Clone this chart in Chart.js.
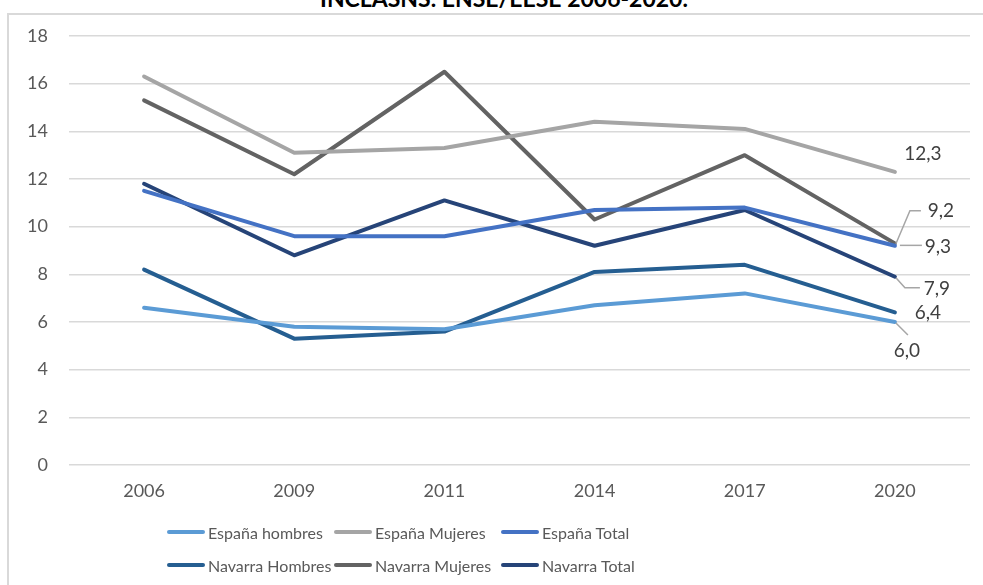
<!DOCTYPE html>
<html>
<head>
<meta charset="utf-8">
<script src="https://cdn.jsdelivr.net/npm/chart.js@4"></script>
<style>
  html, body { margin: 0; padding: 0; background: #fff; }
  #wrap { position: relative; width: 983px; height: 585px; overflow: hidden; font-family: Lato, sans-serif; }
  #frame { position: absolute; left: 7px; top: 13px; width: 990px; height: 600px;
           border-left: 2px solid #d9d9d9; border-top: 2px solid #d9d9d9; }
  #title { position: absolute; left: 0; width: 1008px; top: -13px; text-align: center;
           font-size: 23px; line-height: 23px; font-weight: bold; color: #000; white-space: nowrap; }
  #chart { position: absolute; left: 0; top: 0; }
  .legend { position: absolute; left: 167px; height: 20px; display: flex; }
  .item { width: 167px; display: flex; align-items: center; font-size: 16px; color: #595959; white-space: nowrap; }
  .sw { width: 38px; height: 4px; border-radius: 2px; margin-right: 3px; flex: none; }
</style>
</head>
<body>
<div id="wrap">
  <div id="frame"></div>
  <div id="title">INCLASNS. ENSE/EESE 2006-2020.</div>
  <canvas id="chart" width="983" height="585"></canvas>
  <div class="legend" id="legendRow1" style="top:522px"></div>
  <div class="legend" id="legendRow2" style="top:555px"></div>
</div>
<script>
document.addEventListener('DOMContentLoaded', () => {

  /* ---------- DATA ---------- */
  const years = ['2006', '2009', '2011', '2014', '2017', '2020'];
  const yTicks = [0, 2, 4, 6, 8, 10, 12, 14, 16, 18];

  const espanaHombres  = [6.6, 5.8, 5.7, 6.7, 7.2, 6.0];
  const espanaMujeres  = [16.3, 13.1, 13.3, 14.4, 14.1, 12.3];
  const espanaTotal    = [11.5, 9.6, 9.6, 10.7, 10.8, 9.2];
  const navarraHombres = [8.2, 5.3, 5.6, 8.1, 8.4, 6.4];
  const navarraMujeres = [15.3, 12.2, 16.5, 10.3, 13.0, 9.3];
  const navarraTotal   = [11.8, 8.8, 11.1, 9.2, 10.7, 7.9];

  const seriesNames = ['España hombres', 'España Mujeres', 'España Total',
                       'Navarra Hombres', 'Navarra Mujeres', 'Navarra Total'];
  const seriesData = [espanaHombres, espanaMujeres, espanaTotal,
                      navarraHombres, navarraMujeres, navarraTotal];
  const colors = ['#5b9bd5', '#a5a5a5', '#4472c4', '#255e91', '#636363', '#264478'];

  /* ---------- END LABELS (offset from last point, px) ---------- */
  const endLabels = [
    { dx: 12, dy: 29, leader: [[1, 1], [13, 13]] },
    { dx: 28, dy: -18 },
    { dx: 46, dy: -35, leader: [[1, -2], [15, -35], [26, -35]] },
    { dx: 33, dy: 0 },
    { dx: 43, dy: 4, leader: [[5, 2], [27, 2]] },
    { dx: 42, dy: 12, leader: [[1, 1], [10, 11], [25, 11]] }
  ];

  const endLabelPlugin = {
    id: 'endLabels',
    afterDatasetsDraw(chart) {
      const ctx = chart.ctx;
      ctx.save();
      ctx.font = '19px Lato, sans-serif';
      ctx.fillStyle = '#404040';
      ctx.textAlign = 'center';
      ctx.textBaseline = 'middle';
      chart.data.datasets.forEach((ds, i) => {
        const meta = chart.getDatasetMeta(i);
        const last = meta.data[meta.data.length - 1];
        const cfg = endLabels[i];
        if (cfg.leader) {
          ctx.strokeStyle = '#a6a6a6';
          ctx.lineWidth = 1.5;
          ctx.beginPath();
          cfg.leader.forEach(([lx, ly], k) => {
            if (k === 0) ctx.moveTo(last.x + lx, last.y + ly);
            else ctx.lineTo(last.x + lx, last.y + ly);
          });
          ctx.stroke();
        }
        const v = ds.data[ds.data.length - 1];
        ctx.fillText(v.toFixed(1).replace('.', ','), last.x + cfg.dx, last.y + cfg.dy);
      });
      ctx.restore();
    }
  };

  /* ---------- CHART ---------- */
  new Chart(document.getElementById('chart'), {
    type: 'line',
    data: {
      labels: years,
      datasets: seriesNames.map((name, i) => ({
        label: name,
        data: seriesData[i],
        borderColor: colors[i],
        backgroundColor: colors[i],
        borderWidth: 4,
        pointRadius: 0,
        tension: 0,
        borderCapStyle: 'round',
        borderJoinStyle: 'round'
      }))
    },
    options: {
      responsive: false,
      animation: false,
      layout: { padding: { left: 0, right: 13, top: 36, bottom: 0 } },
      plugins: {
        legend: { display: false },
        tooltip: { enabled: false }
      },
      scales: {
        x: {
          offset: true,
          grid: { display: false, drawTicks: false },
          border: { display: false },
          ticks: { color: '#595959', font: { family: 'Lato', size: 18 }, padding: 15 },
          afterFit: s => { s.height = 120; }
        },
        y: {
          min: 0,
          max: 18,
          afterBuildTicks: s => { s.ticks = yTicks.map(v => ({ value: v })); },
          grid: { color: '#d9d9d9', lineWidth: 1.5, drawTicks: false },
          border: { display: false },
          ticks: { color: '#595959', font: { family: 'Lato', size: 18 }, padding: 21 },
          afterFit: s => { s.width = 69; }
        }
      }
    },
    plugins: [endLabelPlugin]
  });

  /* ---------- LEGEND ---------- */
  const rows = [document.getElementById('legendRow1'), document.getElementById('legendRow2')];
  seriesNames.forEach((name, i) => {
    const item = document.createElement('div');
    item.className = 'item';
    const sw = document.createElement('span');
    sw.className = 'sw';
    sw.style.background = colors[i];
    const txt = document.createElement('span');
    txt.textContent = name;
    item.appendChild(sw);
    item.appendChild(txt);
    rows[i < 3 ? 0 : 1].appendChild(item);
  });

});
</script>
</body>
</html>
